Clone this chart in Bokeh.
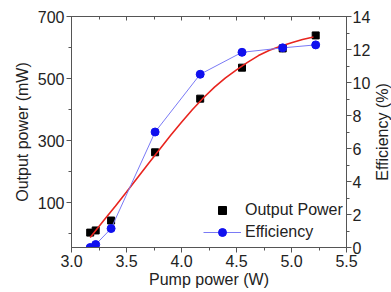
import math
from bokeh.plotting import figure
from bokeh.layouts import row
from bokeh.core.properties import value
from bokeh.models import (LinearAxis, Range1d, FixedTicker, NumeralTickFormatter,
                          Legend, LegendItem, CustomJSTickFormatter)
from bokeh.embed import file_html
from bokeh.resources import INLINE

# Data
pump = [3.17, 3.22, 3.36, 3.76, 4.17, 4.55, 4.92, 5.22]
output_power = [3, 10, 42, 262, 435, 535, 597, 639]
efficiency = [0.0, 0.18, 1.15, 7.0, 10.5, 11.83, 12.1, 12.28]

fit_x = [3.17, 3.3, 3.4, 3.5, 3.6, 3.7, 3.8, 3.9, 4.0, 4.1, 4.2, 4.3, 4.4,
         4.5, 4.6, 4.7, 4.8, 4.9, 5.0, 5.1, 5.2]
fit_y = [-13, 45, 89, 134, 180, 226, 271, 316, 359, 400, 438, 472, 502,
         528, 552, 574, 591, 604, 615, 626, 634]

x_ticks = [3.0, 3.5, 4.0, 4.5, 5.0, 5.5]
x_minor = [3.25, 3.75, 4.25, 4.75, 5.25]
left_ticks = [100, 300, 500, 700]
left_minor = [0, 200, 400, 600]
right_ticks = [0, 2, 4, 6, 8, 10, 12, 14]
right_minor = [1, 3, 5, 7, 9, 11, 13]
right_title = "Efficiency (%)"

FONT = "Liberation Sans"
AX = "#555555"
TXT = "#222222"

H = 292
W_MAIN, W_TITLE = 373, 18
BL, BR, BT, BB = 71, 25, 16, 45

p = figure(width=W_MAIN, height=H, output_backend="svg", toolbar_location=None,
           x_range=Range1d(3.0, 5.5), y_range=Range1d(-45, 700),
           min_border_left=BL, min_border_top=BT, min_border_right=BR,
           min_border_bottom=BB)
p.extra_y_ranges = {"eff": Range1d(0, 14)}
p.xgrid.visible = False
p.ygrid.visible = False
p.outline_line_color = AX
p.outline_line_width = 1
p.background_fill_color = "white"

def style(ax):
    ax.axis_line_color = AX
    ax.major_tick_line_color = AX
    ax.minor_tick_line_color = AX
    ax.major_tick_out = 5
    ax.major_tick_in = 0
    ax.minor_tick_out = 3
    ax.minor_tick_in = 0
    ax.major_label_text_font = FONT
    ax.major_label_text_font_size = "16px"
    ax.major_label_text_color = TXT
    ax.axis_label_text_font = FONT
    ax.axis_label_text_font_size = "16px"
    ax.axis_label_text_font_style = "normal"
    ax.axis_label_text_color = TXT

xa = p.xaxis[0]
xa.ticker = FixedTicker(ticks=x_ticks, minor_ticks=x_minor)
xa.formatter = NumeralTickFormatter(format="0.0")
xa.axis_label = "Pump power (W)"
style(xa)
xa.major_label_standoff = 2
xa.axis_label_standoff = 1

ya = p.yaxis[0]
ya.ticker = FixedTicker(ticks=left_ticks, minor_ticks=left_minor)
ya.axis_label = "Output power (mW)"
style(ya)
ya.major_label_standoff = 2
ya.axis_label_standoff = 4

ra = LinearAxis(y_range_name="eff")
ra.ticker = FixedTicker(ticks=right_ticks, minor_ticks=right_minor)
style(ra)
ra.major_label_standoff = 1
p.add_layout(ra, "right")

ta = LinearAxis()
ta.ticker = FixedTicker(ticks=x_ticks, minor_ticks=x_minor)
style(ta)
ta.formatter = CustomJSTickFormatter(code="return '';")
ta.major_tick_out = 0
ta.major_tick_in = 4
ta.minor_tick_out = 0
ta.minor_tick_in = 3
ta.major_label_standoff = 0
p.add_layout(ta, "above")

sq = p.scatter(pump, output_power, marker="square", size=7, color="black")
p.line(fit_x, fit_y, line_color="#e8251f", line_width=1.6)
bl = p.line(pump, efficiency, y_range_name="eff", line_color="#7a7af5", line_width=1)
bc = p.scatter(pump, efficiency, y_range_name="eff", marker="circle", size=8,
               color="#1010ee")

legend = Legend(items=[LegendItem(label="Output Power", renderers=[sq]),
                       LegendItem(label="Efficiency", renderers=[bl, bc])],
                location=(132, 5), glyph_width=38, glyph_height=20,
                label_height=20, spacing=2, padding=0, margin=0,
                label_standoff=4, border_line_color=None,
                background_fill_alpha=0,
                label_text_font=FONT, label_text_font_size="16px",
                label_text_color=TXT)
p.add_layout(legend, "center")

# narrow strip holding the right-axis title, reading bottom to top
t = figure(width=W_TITLE, height=H, output_backend="svg", toolbar_location=None,
           x_range=Range1d(0, 1), y_range=Range1d(0, 1),
           min_border_left=0, min_border_right=0, min_border_top=BT,
           min_border_bottom=BB)
t.axis.visible = False
t.grid.visible = False
t.outline_line_color = None
t.text(x=[0.5], y=[0.5], text=[right_title], angle=math.pi / 2,
       text_align="center", text_baseline="middle",
       text_font=value(FONT), text_font_size=value("16px"), text_color=TXT)

layout = row(p, t, spacing=0)
open("out.html", "w").write(file_html(layout, INLINE))
